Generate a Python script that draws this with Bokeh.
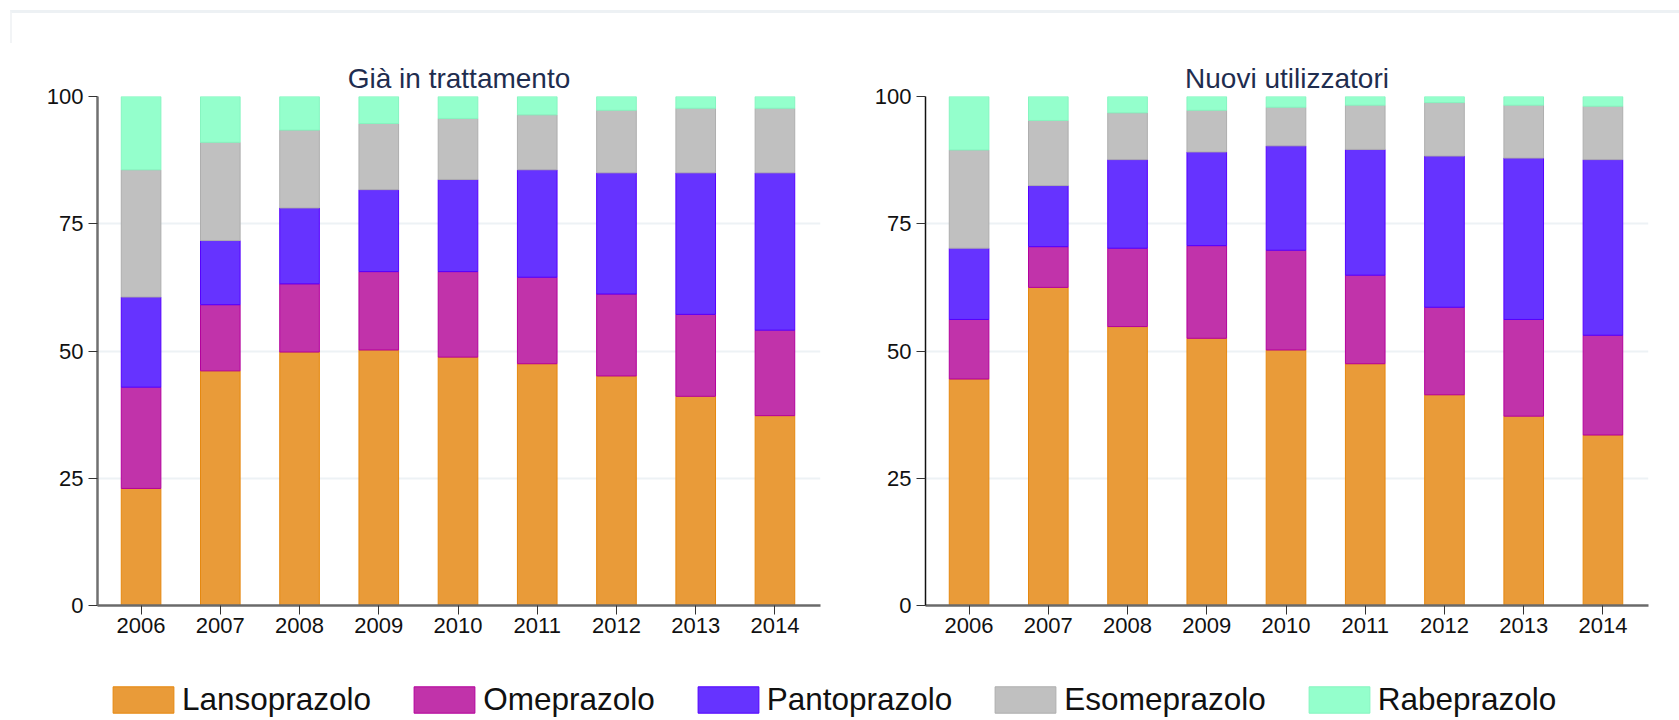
from bokeh.plotting import figure
from bokeh.layouts import column, row
from bokeh.models import Range1d, Legend, LegendItem, ColumnDataSource, Div
from bokeh.embed import file_html
from bokeh.resources import INLINE

years = [2006, 2007, 2008, 2009, 2010, 2011, 2012, 2013, 2014]
series = ["Lansoprazolo", "Omeprazolo", "Pantoprazolo", "Esomeprazolo", "Rabeprazolo"]
y_ticks = [0, 25, 50, 75, 100]

# "Già in trattamento" shares (%)
gia_lanso = [23.0, 46.1, 49.8, 50.2, 48.8, 47.5, 45.1, 41.1, 37.3]
gia_omep = [19.9, 13.0, 13.4, 15.4, 16.8, 17.0, 16.1, 16.1, 16.8]
gia_panto = [17.7, 12.6, 14.9, 16.1, 18.1, 21.1, 23.8, 27.8, 30.9]
gia_esom = [25.0, 19.3, 15.3, 13.0, 12.0, 10.8, 12.3, 12.7, 12.7]
gia_rabe = [14.4, 9.0, 6.6, 5.3, 4.3, 3.6, 2.7, 2.3, 2.3]

# "Nuovi utilizzatori" shares (%)
nuovi_lanso = [44.5, 62.5, 54.8, 52.5, 50.2, 47.5, 41.4, 37.2, 33.5]
nuovi_omep = [11.7, 8.0, 15.4, 18.2, 19.6, 17.4, 17.2, 19.0, 19.6]
nuovi_panto = [14.0, 12.0, 17.4, 18.4, 20.5, 24.7, 29.7, 31.7, 34.5]
nuovi_esom = [19.3, 12.8, 9.2, 8.2, 7.6, 8.7, 10.5, 10.4, 10.5]
nuovi_rabe = [10.5, 4.7, 3.2, 2.7, 2.1, 1.7, 1.2, 1.7, 1.9]

fills = ["#E99B39", "#C133AA", "#6633FF", "#C0C0C0", "#94FFCC"]
lines = ["#E6880F", "#B4009C", "#5500FF", "#AEAEAE", "#86F5C0"]

FONT = "Liberation Sans"


def make_source(vals):
    data = {"x": years}
    for name, v in zip(series, vals):
        data[name] = v
    return ColumnDataSource(data)


def make_panel(title, vals, border_left, border_right, yaxis_color, yaxis_width):
    p = figure(width=border_left + 723 + border_right, height=53 + 509 + 40,
               x_range=Range1d(2005.45, 2014.575), y_range=Range1d(0, 100),
               output_backend="svg", toolbar_location=None, title=title,
               min_border_left=border_left, min_border_right=border_right,
               min_border_top=53, min_border_bottom=40)
    p.vbar_stack(series, x="x", width=0.5, source=make_source(vals),
                 fill_color=fills, line_color=lines, line_width=1)
    p.outline_line_color = None
    p.xgrid.visible = False
    p.ygrid.grid_line_color = "#edf2f5"
    p.ygrid.grid_line_width = 2
    p.ygrid.ticker = y_ticks
    p.xaxis.ticker = years
    p.yaxis.ticker = y_ticks
    for ax in (p.xaxis[0], p.yaxis[0]):
        ax.major_tick_in = 0
        ax.major_tick_out = 9
        ax.minor_tick_out = 0
        ax.minor_tick_in = 0
        ax.major_label_text_font = FONT
        ax.major_label_text_font_size = "22px"
        ax.major_label_text_color = "#111111"
        ax.major_tick_line_color = "#333333"
    p.xaxis.axis_line_color = "#6a6a6a"
    p.xaxis.axis_line_width = 2.5
    p.xaxis.major_label_standoff = 3
    p.yaxis.axis_line_color = yaxis_color
    p.yaxis.axis_line_width = yaxis_width
    p.yaxis.major_label_standoff = 5
    p.title.text_font = FONT
    p.title.text_font_size = "28px"
    p.title.text_font_style = "normal"
    p.title.text_color = "#1f2d4f"
    p.title.align = "center"
    p.title.standoff = 5
    return p


gia_vals = [gia_lanso, gia_omep, gia_panto, gia_esom, gia_rabe]
nuovi_vals = [nuovi_lanso, nuovi_omep, nuovi_panto, nuovi_esom, nuovi_rabe]

p1 = make_panel("Già in trattamento", gia_vals, 97, 10, "#707070", 2.5)
p2 = make_panel("Nuovi utilizzatori", nuovi_vals, 95, 3, "#111111", 1.5)

# legend strip: its stacked renderers lie outside the strip's visible range
lf = figure(width=1651, height=75, output_backend="svg", toolbar_location=None,
            min_border=0, x_range=Range1d(0, 1), y_range=Range1d(0, 1))
lf.axis.visible = False
lf.grid.visible = False
lf.outline_line_color = None
rs = lf.vbar_stack(series, x="x", width=0.5, source=make_source(gia_vals),
                   fill_color=fills, line_color=lines, line_width=1)
items = [LegendItem(label=name, renderers=[r]) for name, r in zip(series, rs)]
leg = Legend(items=items, orientation="horizontal", location=(105, 2),
             glyph_width=76, glyph_height=33, label_standoff=1, spacing=35,
             padding=0, margin=0, border_line_color=None,
             background_fill_alpha=0, label_text_font=FONT,
             label_text_font_size="31.5px", label_text_color="#111111")
lf.add_layout(leg)

top = Div(text="", width=1669, height=33, margin=(10, 0, 0, 10),
          styles={"border-top": "3px solid #edf1f4",
                  "border-left": "2px solid #f2f4f6"})

layout = column(top, row(p1, p2), lf)
open("out.html", "w").write(file_html(layout, INLINE))
